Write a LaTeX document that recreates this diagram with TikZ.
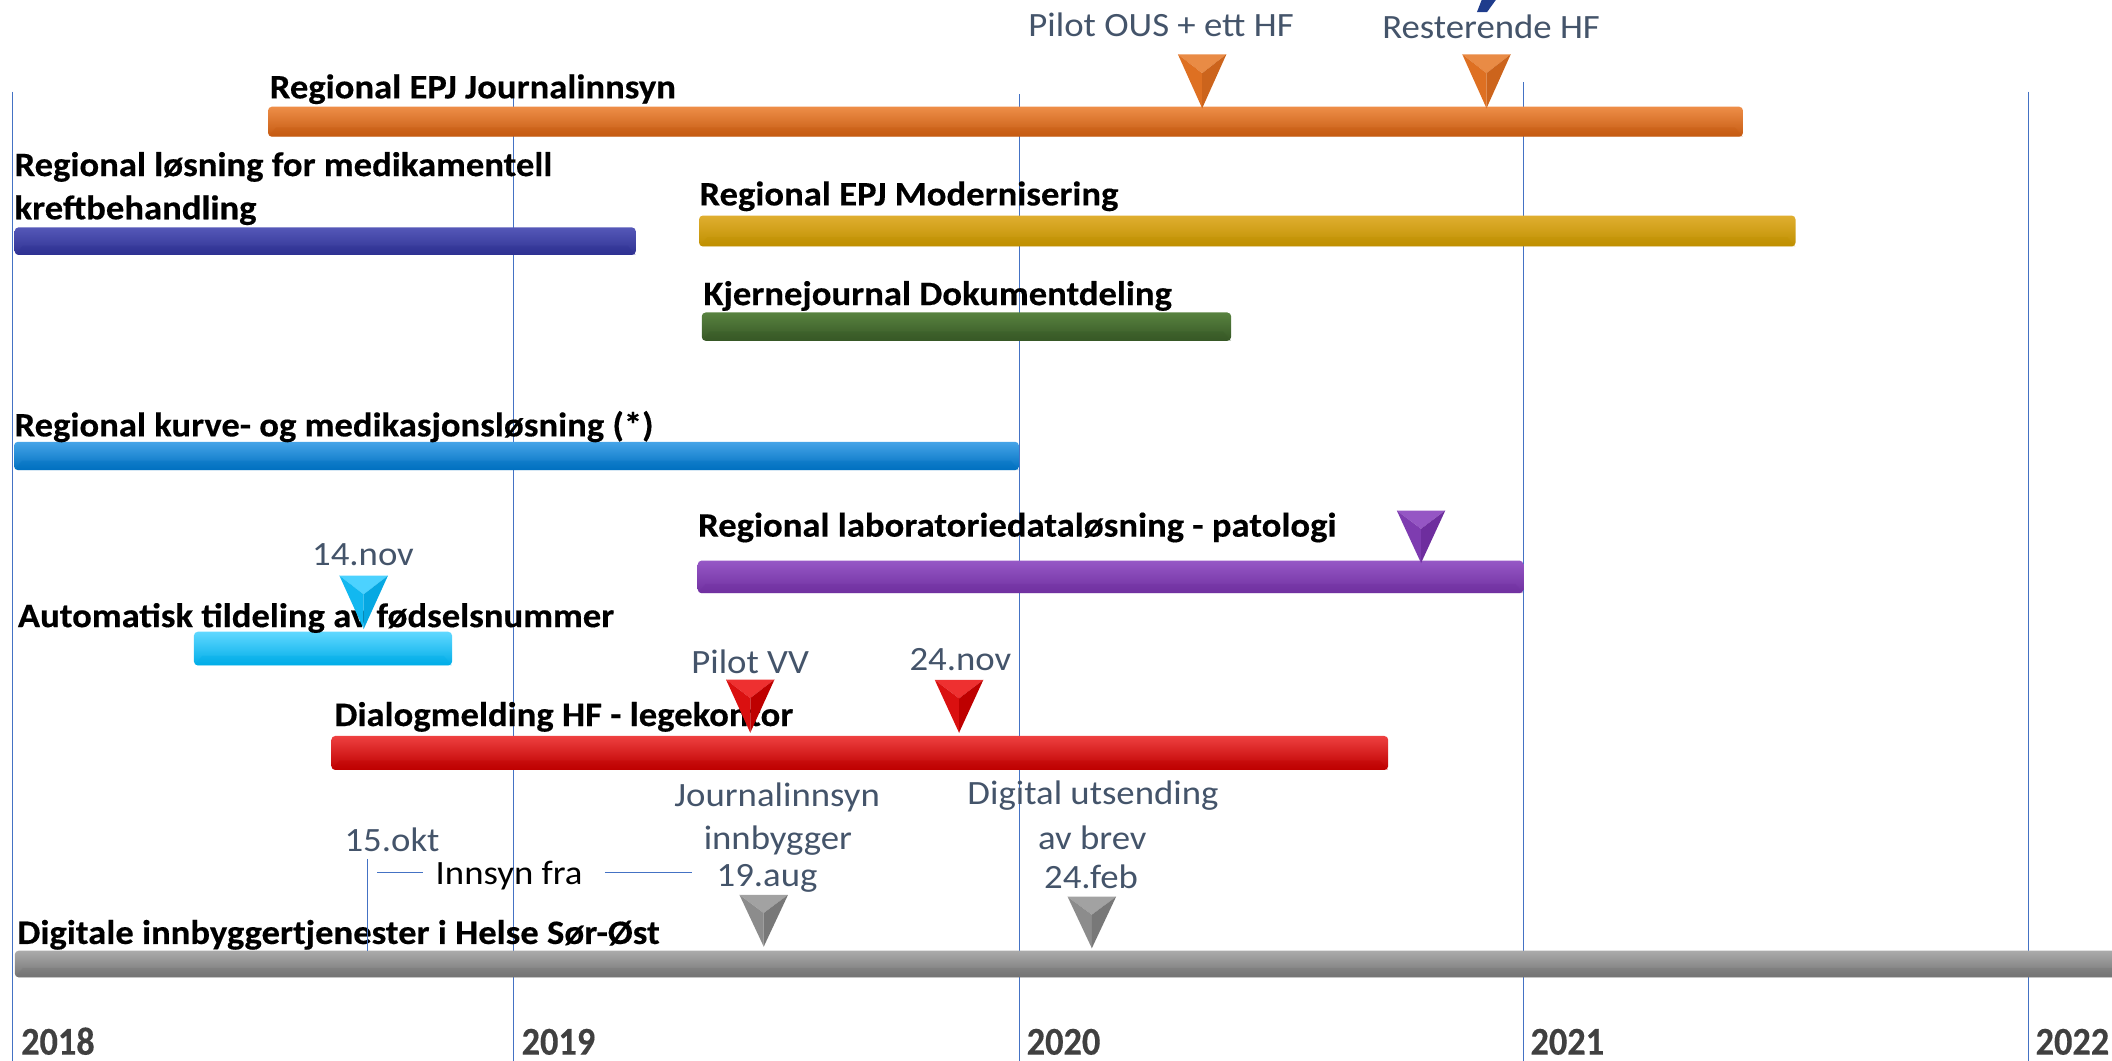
\documentclass[tikz,border=0pt]{standalone}
\usepackage{fontspec}
\setmainfont{Carlito}[FakeStretch=1.08]
\newfontfamily\lblfont{Carlito}[FakeStretch=1.07, BoldFeatures={FakeBold=0.35}]
\newfontfamily\yearfont{Carlito}[FakeStretch=0.92, BoldFeatures={FakeBold=0.3}]
\usetikzlibrary{calc}
\definecolor{slate}{HTML}{44546A}
\definecolor{gridc}{HTML}{4472C4}
\definecolor{yearc}{HTML}{404040}
\definecolor{titleblue}{HTML}{1F3C8C}
% bar colours: light / mid / dark
\definecolor{orL}{HTML}{EE8E48}\definecolor{orM}{HTML}{D0621A}\definecolor{orD}{HTML}{C55A11}
\definecolor{dbL}{HTML}{5558B8}\definecolor{dbM}{HTML}{363A9A}\definecolor{dbD}{HTML}{2E3192}
\definecolor{goL}{HTML}{E0AE30}\definecolor{goM}{HTML}{C59608}\definecolor{goD}{HTML}{BF9000}
\definecolor{grL}{HTML}{58823F}\definecolor{grM}{HTML}{3E642C}\definecolor{grD}{HTML}{375826}
\definecolor{blL}{HTML}{45A4E8}\definecolor{blM}{HTML}{137ACA}\definecolor{blD}{HTML}{0070C0}
\definecolor{puL}{HTML}{9658C6}\definecolor{puM}{HTML}{7734A6}\definecolor{puD}{HTML}{7030A0}
\definecolor{cyL}{HTML}{60D8FF}\definecolor{cyM}{HTML}{10B6EE}\definecolor{cyD}{HTML}{00ADE8}
\definecolor{reL}{HTML}{EE4040}\definecolor{reM}{HTML}{C80808}\definecolor{reD}{HTML}{BE0000}
\definecolor{gyL}{HTML}{ABABAB}\definecolor{gyM}{HTML}{7E7E7E}\definecolor{gyD}{HTML}{737373}
% triangle facet colours
\definecolor{torT}{HTML}{E98B45}\definecolor{torL}{HTML}{DE7022}\definecolor{torR}{HTML}{CC641C}
\definecolor{tcyT}{HTML}{4CD2FF}\definecolor{tcyL}{HTML}{12B8F0}\definecolor{tcyR}{HTML}{06A8E2}
\definecolor{treT}{HTML}{EE3030}\definecolor{treL}{HTML}{DA1010}\definecolor{treR}{HTML}{BE0000}
\definecolor{tgyT}{HTML}{A2A2A2}\definecolor{tgyL}{HTML}{8C8C8C}\definecolor{tgyR}{HTML}{787878}
\definecolor{tpuT}{HTML}{9556C4}\definecolor{tpuL}{HTML}{7E3CB0}\definecolor{tpuR}{HTML}{6E2E9E}

\newcommand\tlbar[7]{%
  \shade[rounded corners=2pt, top color=#5, middle color=#6, bottom color=#7]
    (#1,#2) rectangle (#3,#4);
  \fill[#7, opacity=0.3] (#1,#4) -- ++(6,-7) -- (#3-6,{#4-7}) -- (#3,#4) [rounded corners=2pt] -- cycle;
}
\newcommand\tltri[6]{%
  \coordinate (tO) at ($(#1,#2)!0.35!(#1,#3)$);
  \fill[#4] (#1-18,#2) -- (#1+18,#2) -- (tO) -- cycle;
  \fill[#5] (#1-18,#2) -- (tO) -- (#1,#3) -- cycle;
  \fill[#6] (#1+18,#2) -- (tO) -- (#1,#3) -- cycle;
}

\tikzset{
  lbl/.style={font=\lblfont\bfseries\fontsize{17.8}{20}\selectfont, anchor=base west, inner sep=0pt, text=black},
  ann/.style={font=\fontsize{17.7}{20}\selectfont, anchor=base, inner sep=0pt, text=slate},
  yr/.style={font=\yearfont\bfseries\fontsize{20.5}{22}\selectfont, anchor=base west, inner sep=0pt, text=yearc},
  gridline/.style={draw=gridc, line width=0.6pt},
  spanline/.style={draw=gridc, line width=0.6pt},
}

\begin{document}
\begin{tikzpicture}[x=0.7pt, y=-0.7pt]
\useasboundingbox (0,0) rectangle (1568,787.7);
\clip (0,0) rectangle (1568,787.7);

% title fragment at the top edge
\fill[titleblue] (1096.5,9) -- (1104,9) -- (1110.5,0) -- (1100,0) -- cycle;

% year grid lines
\coordinate (g18t) at (9.2,68);   \coordinate (g18b) at (9.2,788);
\coordinate (g19t) at (381,68);   \coordinate (g19b) at (381,788);
\coordinate (g20t) at (757,70);   \coordinate (g20b) at (757,788);
\coordinate (g21t) at (1131,61);  \coordinate (g21b) at (1131,788);
\coordinate (g22t) at (1506,68);  \coordinate (g22b) at (1506,788);
\draw[gridline] (g18t) -- (g18b);
\draw[gridline] (g19t) -- (g19b);
\draw[gridline] (g20t) -- (g20b);
\draw[gridline] (g21t) -- (g21b);
\draw[gridline] (g22t) -- (g22b);

% year labels
\node[yr] (y18) at (15.4,783) {2018};
\node[yr] (y19) at (387,783) {2019};
\node[yr] (y20) at (762,783) {2020};
\node[yr] (y21) at (1136,783) {2021};
\node[yr] (y22) at (1511,783) {2022};

% bars
\tlbar{199}{79.2}{1294}{101.5}{orL}{orM}{orD}
\tlbar{10.9}{168.8}{472}{189.3}{dbL}{dbM}{dbD}
\tlbar{519}{160}{1333}{183}{goL}{goM}{goD}
\tlbar{521}{232}{914}{253}{grL}{grM}{grD}
\tlbar{10.4}{328}{756.5}{349}{blL}{blM}{blD}
\tlbar{518}{416.2}{1131}{440.4}{puL}{puM}{puD}
\tlbar{144}{469}{335.6}{494}{cyL}{cyM}{cyD}
\tlbar{246}{546.4}{1030.6}{571.6}{reL}{reM}{reD}
\tlbar{11}{705.8}{1600}{725.6}{gyL}{gyM}{gyD}

% bar labels
\node[lbl] (t1) at (200,73) {Regional EPJ Journalinnsyn};
\node[lbl] (t2a) at (10.5,130.7) {Regional løsning for medikamentell};
\node[lbl] (t2b) at (10.5,162.8) {kreftbehandling};
\node[lbl] (t3) at (519,152.5) {Regional EPJ Modernisering};
\node[lbl] (t4) at (522,226.5) {Kjernejournal Dokumentdeling};
\node[lbl] (t5) at (10.5,324) {Regional kurve- og medikasjonsløsning (*)};
\node[lbl] (t6) at (518,398.4) {Regional laboratoriedataløsning - patologi};
\node[lbl] (t7) at (13,465.6) {Automatisk tildeling av fødselsnummer};
\node[lbl] (t8) at (248,539) {Dialogmelding HF - legekontor};
\node[lbl] (t9) at (12.6,700.8) {Digitale innbyggertjenester i Helse Sør-Øst};

% milestone triangles
\tltri{892.5}{40.3}{80.4}{torT}{torL}{torR}
\tltri{1103.6}{40.3}{80.4}{torT}{torL}{torR}
\tltri{1055}{379}{418}{tpuT}{tpuL}{tpuR}
\tltri{270}{427.4}{467}{tcyT}{tcyL}{tcyR}
\tltri{557}{504.5}{544}{treT}{treL}{treR}
\tltri{712}{504.8}{544}{treT}{treL}{treR}
\tltri{567}{664.4}{702.8}{tgyT}{tgyL}{tgyR}
\tltri{810.6}{665.7}{704}{tgyT}{tgyL}{tgyR}

% milestone annotations
\node[ann] (a1) at (862,27.2) {Pilot OUS + ett HF};
\node[ann] (a2) at (1107,28.5) {Resterende HF};
\node[ann] (a3) at (269.5,419.5) {14.nov};
\node[ann] (a4) at (557,500) {Pilot VV};
\node[ann] (a5) at (713,498) {24.nov};
\node[ann] (a6) at (577,599) {Journalinnsyn};
\node[ann] (a7) at (577.5,631) {innbygger};
\node[ann] (a8) at (569.5,658) {19.aug};
\node[ann] (a9) at (811.5,597) {Digital utsending};
\node[ann] (a10) at (811,631) {av brev};
\node[ann] (a11) at (810,659.5) {24.feb};
\node[ann] (a12) at (291,632.3) {15.okt};
\node[ann, text=black] (a13) at (378,656.3) {Innsyn fra};

% "Innsyn fra" span markers
\coordinate (m1a) at (280,647.9); \coordinate (m1b) at (314,647.9);
\coordinate (m2a) at (449,647.9); \coordinate (m2b) at (514,647.9);
\coordinate (m3a) at (273,637.7); \coordinate (m3b) at (273,705.8);
\draw[spanline] (m1a) -- (m1b);
\draw[spanline] (m2a) -- (m2b);
\draw[spanline] (m3a) -- (m3b);
\end{tikzpicture}
\end{document}
